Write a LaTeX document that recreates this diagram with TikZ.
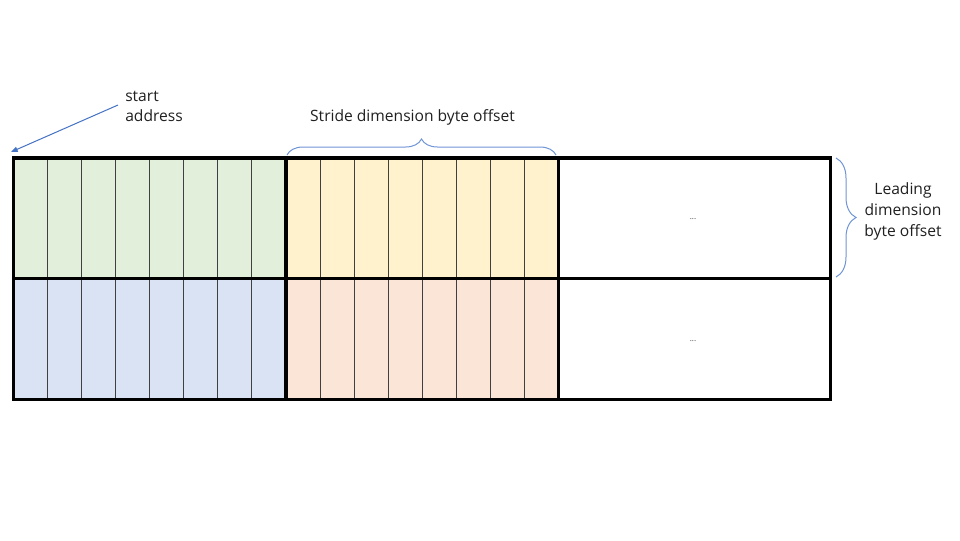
\documentclass[tikz,border=0pt]{standalone}
\usepackage{fontspec}
\setmainfont{Open Sans}
\usetikzlibrary{decorations.pathreplacing,arrows.meta}
\definecolor{cgreen}{HTML}{E2EFDA}
\definecolor{cyellow}{HTML}{FFF2CC}
\definecolor{cblue}{HTML}{DAE3F3}
\definecolor{corange}{HTML}{FBE5D6}
\definecolor{accent}{HTML}{4472C4}
\definecolor{bracecol}{HTML}{6F95D6}
\definecolor{txt}{HTML}{202020}
\definecolor{thinline}{HTML}{404040}
\tikzset{
  cell/.style={draw=none, inner sep=0pt, outer sep=0pt, minimum width=204.4pt, minimum height=90.4pt},
  slice/.style={draw=thinline, line width=0.75pt},
  frame/.style={draw=black, line width=2.3pt},
  label/.style={text=txt, font=\fontsize{11.7}{15}\selectfont, inner sep=0pt},
  ellip/.style={text=darkgray, font=\fontsize{6}{6}\selectfont, inner sep=0pt},
  bracedec/.style={draw=bracecol, line width=0.75pt, decorate},
  pointer/.style={draw=accent, line width=0.75pt, -{Triangle[length=5pt,width=4pt]}}
}
\begin{document}
\begin{tikzpicture}[x=0.75pt,y=-0.75pt]
\useasboundingbox[fill=white] (0,0) rectangle (960,540);
% cells
\node[cell, fill=cgreen]  (g) at (149.65,218.3) {};
\node[cell, fill=cyellow] (y) at (422.15,218.3) {};
\node[cell] (w1) at (694.5,218.3) {};
\node[cell, fill=cblue]   (b) at (149.65,338.9) {};
\node[cell, fill=corange] (o) at (422.15,338.9) {};
\node[cell] (w2) at (694.5,338.9) {};
% slices
\foreach \bx in {13.3,286}
  \foreach \i in {1,...,7}
    \draw[slice] (\bx+\i*34.09,158) -- (\bx+\i*34.09,399.3);
% thick frame
\draw[frame] (13.3,158) rectangle (830.7,399.3);
\draw[frame] (13.3,278.6) -- (830.7,278.6);
\draw[frame] (286,158) -- (286,399.3);
\draw[frame] (558.3,158) -- (558.3,399.3);
% ellipses
\node[ellip] (d1) at (693,219) {...};
\node[ellip] (d2) at (693,341) {...};
% start address
\node[label, anchor=base west, align=left] (sa) at (125,121.5) {start\\address};
\coordinate (astart) at (118,105);
\coordinate (aend) at (11,152);
\draw[pointer] (astart) -- (aend);
% top brace
\coordinate (tb1) at (287,155);
\coordinate (tb2) at (556,155);
\draw[bracedec, decoration={brace, amplitude=12pt}] (tb1) -- (tb2);
\node[label, anchor=base] (stride) at (412.5,121) {Stride dimension byte offset};
% right brace
\coordinate (rb1) at (836,158);
\coordinate (rb2) at (836,277);
\draw[bracedec, decoration={brace, amplitude=15pt}] (rb1) -- (rb2);
\node[label, anchor=base, align=center, font=\fontsize{11.7}{15.4}\selectfont] (lead) at (903,236) {Leading\\dimension\\byte offset};
\end{tikzpicture}
\end{document}
